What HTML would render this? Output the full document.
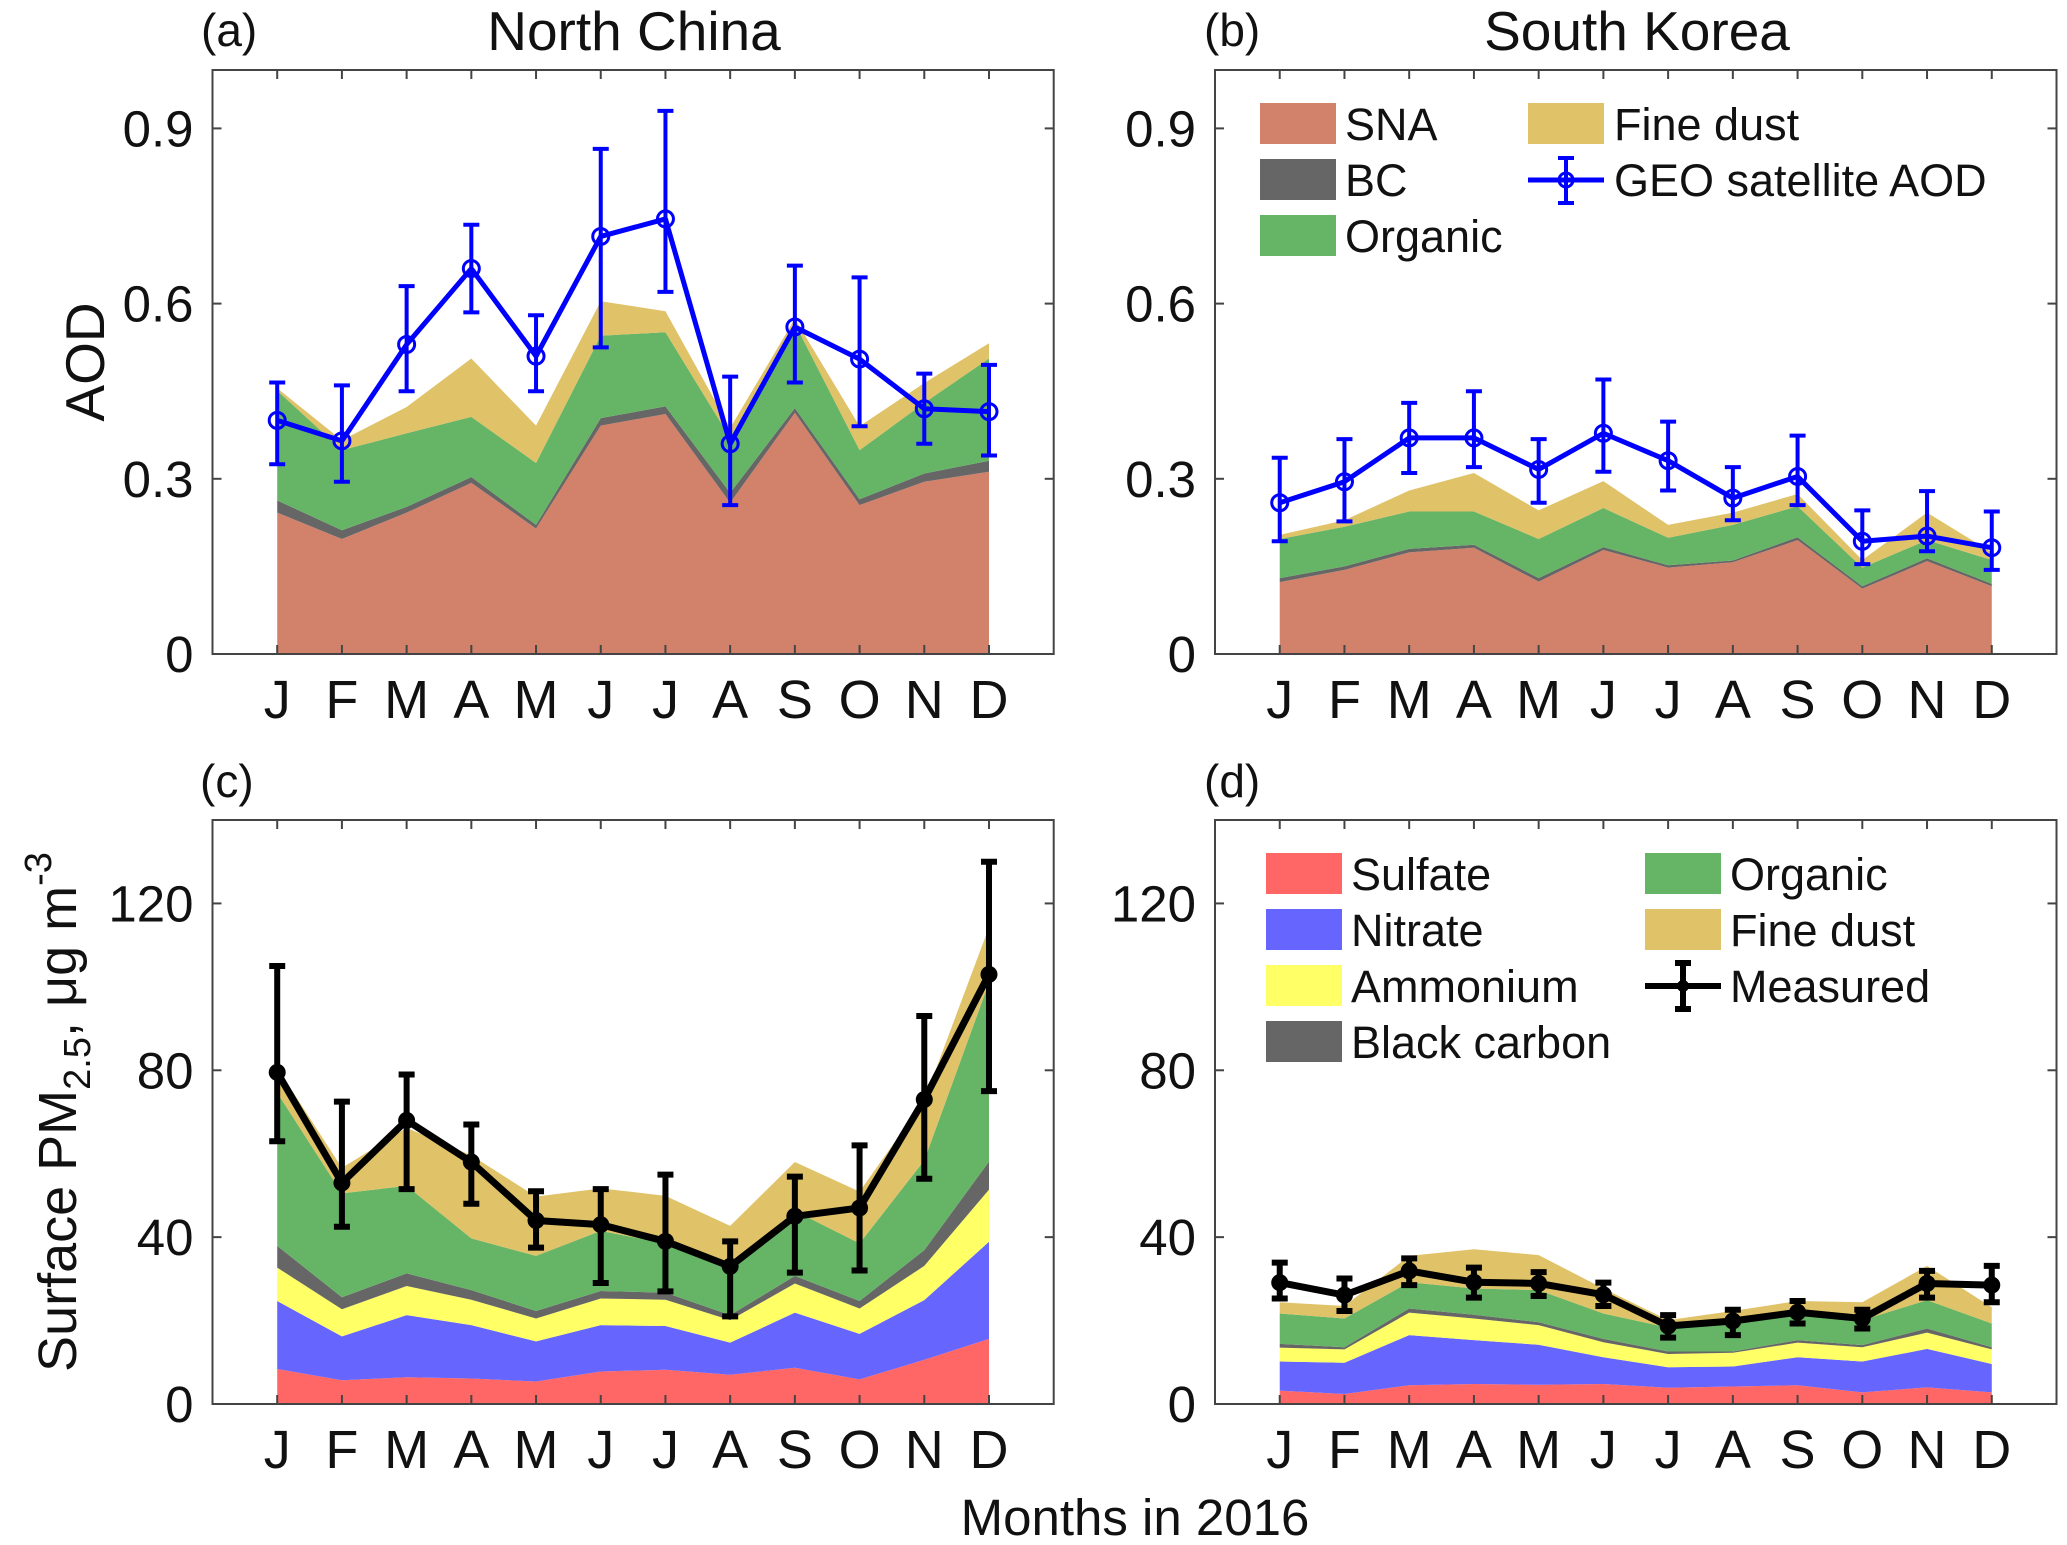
<!DOCTYPE html>
<html><head><meta charset="utf-8"><style>
html,body{margin:0;padding:0;background:#fff}
svg{display:block}
text{font-family:"Liberation Sans",Arial,sans-serif;fill:#111}
</style></head><body>
<svg id="fig" xmlns="http://www.w3.org/2000/svg" width="2067" height="1545" viewBox="0 0 2067 1545">
<rect x="0" y="0" width="2067" height="1545" fill="#fff"/>
</svg>
<script>
const months = ["J","F","M","A","M","J","J","A","S","O","N","D"];
// Panel (a) North China AOD cumulative stack tops
const aSna   = [0.242,0.197,0.242,0.293,0.215,0.391,0.411,0.259,0.413,0.255,0.295,0.312];
const aBc    = [0.263,0.212,0.252,0.303,0.221,0.404,0.424,0.276,0.421,0.265,0.309,0.331];
const aOrg   = [0.451,0.349,0.378,0.406,0.327,0.545,0.551,0.370,0.566,0.349,0.430,0.506];
const aDust  = [0.455,0.366,0.423,0.506,0.391,0.604,0.587,0.387,0.574,0.390,0.464,0.532];
const aAod   = [0.40,0.365,0.53,0.66,0.51,0.715,0.745,0.36,0.56,0.505,0.42,0.415];
const aLo    = [0.325,0.295,0.45,0.585,0.45,0.525,0.62,0.255,0.465,0.39,0.36,0.34];
const aHi    = [0.465,0.46,0.63,0.735,0.58,0.865,0.93,0.475,0.665,0.645,0.48,0.495];
// Panel (b) South Korea AOD
const bSna   = [0.123,0.144,0.174,0.182,0.124,0.178,0.148,0.157,0.195,0.112,0.159,0.116];
const bBc    = [0.130,0.150,0.180,0.187,0.130,0.183,0.152,0.160,0.200,0.116,0.164,0.120];
const bOrg   = [0.197,0.218,0.244,0.244,0.197,0.250,0.199,0.221,0.253,0.148,0.195,0.161];
const bDust  = [0.204,0.229,0.280,0.310,0.246,0.296,0.221,0.242,0.274,0.161,0.242,0.174];
const bAod   = [0.259,0.295,0.370,0.370,0.316,0.378,0.331,0.267,0.304,0.193,0.202,0.182];
const bLo    = [0.193,0.227,0.310,0.320,0.259,0.312,0.280,0.229,0.255,0.154,0.176,0.144];
const bHi    = [0.336,0.368,0.430,0.450,0.368,0.470,0.398,0.320,0.374,0.246,0.279,0.244];
// Panel (c) North China PM2.5 cumulative tops
const cSul   = [8.4,5.7,6.4,6.1,5.4,7.8,8.2,7.0,8.7,5.9,10.6,15.6];
const cNit   = [24.7,16.2,21.3,18.9,15.0,18.9,18.7,14.7,21.9,16.8,24.9,38.9];
const cAmm   = [32.7,22.7,28.3,25.0,20.5,25.3,25.0,20.1,28.9,22.9,33.1,51.4];
const cBc    = [37.9,25.6,31.3,27.3,22.3,27.1,26.7,21.3,30.7,24.7,36.9,58.1];
const cOrg   = [74.6,50.5,52.3,39.7,35.5,41.5,38.5,32.9,46.3,38.5,58.4,101];
const cDust  = [80.6,56.6,66.2,59.6,49.7,51.7,49.9,42.7,58.0,50.9,72.8,114.3];
const cMeas  = [79.5,53,68,58,44,43,39,33,45,47,73,103];
const cLo    = [63,42.5,51.5,48,37.5,29,27,21,31.5,32,54,75];
const cHi    = [105,72.5,79,67,51,51.5,55,39,54.5,62,93,130];
// Panel (d) South Korea PM2.5
const dSul   = [3.2,2.4,4.5,4.8,4.6,4.8,3.9,4.2,4.5,2.8,4.0,2.8];
const dNit   = [10.2,9.9,16.5,15.3,14.2,11.2,8.8,9.0,11.2,10.2,13.2,9.6];
const dAmm   = [13.5,13.1,21.9,20.5,18.9,14.8,12.0,12.3,14.7,13.6,17.1,13.1];
const dBc    = [14.4,13.6,22.9,21.4,19.6,15.6,12.6,12.6,15.3,14.1,18.1,13.6];
const dOrg   = [21.7,20.5,29.2,27.7,27.3,21.7,18.3,19.9,21.7,20.1,24.9,19.3];
const dDust  = [24.4,23.5,35.5,37.1,35.7,27.7,20.1,22.3,24.7,24.4,33.1,23.2];
const dMeas  = [29.1,26.1,31.9,29.2,28.9,26.2,18.7,19.9,22.0,20.5,28.9,28.5];
const dLo    = [25.3,22.3,28.5,25.5,25.9,23.5,15.9,16.5,19.3,18.1,25.5,24.4];
const dHi    = [33.9,30.1,34.9,32.7,31.6,29.1,21.3,22.6,24.7,22.6,31.9,33.1];
const aodTicks = ["0","0.3","0.6","0.9"];
const aodTickVals = [0,0.3,0.6,0.9];
const pmTicks = ["0","40","80","120"];
const pmTickVals = [0,40,80,120];

const NS="http://www.w3.org/2000/svg";
const svg=document.getElementById('fig');
function mk(tag,attrs,parent){const e=document.createElementNS(NS,tag);for(const k in attrs)e.setAttribute(k,attrs[k]);(parent||svg).appendChild(e);return e;}

function panel(cfg){
  const g=mk('g',{});
  
  
  const L=cfg.x0,R=cfg.x1,T=cfg.y0,B=cfg.y1;
  const sx=i=>L+(i+1)*(R-L)/13;
  const sy=v=>B-v/cfg.ymax*(B-T);
  let prev=null;
  cfg.layers.forEach(ly=>{
    let pts=[];
    ly.vals.forEach((v,i)=>pts.push(sx(i)+','+sy(v)));
    if(prev){for(let i=11;i>=0;i--)pts.push(sx(i)+','+sy(prev[i]));}
    else{pts.push(sx(11)+','+sy(0));pts.push(sx(0)+','+sy(0));}
    const p=mk('polygon',{points:pts.join(' '),fill:ly.color,stroke:'none'},g);
    
    
    prev=ly.vals;
  });
  const box=mk('rect',{x:L,y:T,width:R-L,height:B-T,fill:'none',stroke:'#444','stroke-width':2},g);
  
  
  months.forEach((m,i)=>{
    mk('line',{x1:sx(i),x2:sx(i),y1:B,y2:B-9,stroke:'#444','stroke-width':2},g);
    mk('line',{x1:sx(i),x2:sx(i),y1:T,y2:T+9,stroke:'#444','stroke-width':2},g);
    const t=mk('text',{x:sx(i),y:cfg.monthY,'text-anchor':'middle','font-size':54},g);
    t.textContent=m;
    
    
  });
  cfg.tickVals.forEach((v,i)=>{
    mk('line',{x1:L,x2:L+9,y1:sy(v),y2:sy(v),stroke:'#444','stroke-width':2},g);
    mk('line',{x1:R,x2:R-9,y1:sy(v),y2:sy(v),stroke:'#444','stroke-width':2},g);
    const t=mk('text',{x:L-19,y:sy(v)+18,'text-anchor':'end','font-size':51},g);
    t.textContent=cfg.ticks[i];
    
    
  });
  const lg=mk('g',{},g);
  
  
  const c=cfg.lineColor;
  cfg.line.forEach((v,i)=>{
    const x=sx(i);
    mk('line',{x1:x,x2:x,y1:sy(cfg.lo[i]),y2:sy(cfg.hi[i]),stroke:c,'stroke-width':cfg.lw},lg);
    mk('line',{x1:x-8,x2:x+8,y1:sy(cfg.lo[i]),y2:sy(cfg.lo[i]),stroke:c,'stroke-width':cfg.lw},lg);
    mk('line',{x1:x-8,x2:x+8,y1:sy(cfg.hi[i]),y2:sy(cfg.hi[i]),stroke:c,'stroke-width':cfg.lw},lg);
  });
  const pl=mk('polyline',{points:cfg.line.map((v,i)=>sx(i)+','+sy(v)).join(' '),fill:'none',stroke:c,'stroke-width':cfg.lw+1,'stroke-linejoin':'round'},lg);
  
  
  cfg.line.forEach((v,i)=>{
    const m=mk('circle',{cx:sx(i),cy:sy(v),r:cfg.open?8:7,fill:cfg.open?'none':c,stroke:c,'stroke-width':3},lg);
    
    
  });
}

const colSNA='#d2826a',colBC='#666666',colOrg='#66b566',colDust='#e0c268',colSul='#ff6666',colNit='#6666ff',colAmm='#ffff66';
panel({name:'panel-a-north-china-aod',x0:212.5,x1:1053.7,y0:70,y1:654,ymax:1,monthY:718,ticks:aodTicks,tickVals:aodTickVals,
  layers:[{name:'sna',vals:aSna,color:colSNA},{name:'bc',vals:aBc,color:colBC},{name:'organic',vals:aOrg,color:colOrg},{name:'fine-dust',vals:aDust,color:colDust}],
  line:aAod,lo:aLo,hi:aHi,lineColor:'#0000ff',lw:4,open:true,lineName:'geo-aod-series'});
panel({name:'panel-b-south-korea-aod',x0:1215,x1:2056.5,y0:70,y1:654,ymax:1,monthY:718,ticks:aodTicks,tickVals:aodTickVals,
  layers:[{name:'sna',vals:bSna,color:colSNA},{name:'bc',vals:bBc,color:colBC},{name:'organic',vals:bOrg,color:colOrg},{name:'fine-dust',vals:bDust,color:colDust}],
  line:bAod,lo:bLo,hi:bHi,lineColor:'#0000ff',lw:4,open:true,lineName:'geo-aod-series'});
panel({name:'panel-c-north-china-pm25',x0:212.5,x1:1053.7,y0:820,y1:1404,ymax:140,monthY:1468,ticks:pmTicks,tickVals:pmTickVals,
  layers:[{name:'sulfate',vals:cSul,color:colSul},{name:'nitrate',vals:cNit,color:colNit},{name:'ammonium',vals:cAmm,color:colAmm},{name:'black-carbon',vals:cBc,color:colBC},{name:'organic',vals:cOrg,color:colOrg},{name:'fine-dust',vals:cDust,color:colDust}],
  line:cMeas,lo:cLo,hi:cHi,lineColor:'#000',lw:6,open:false,lineName:'measured-series'});
panel({name:'panel-d-south-korea-pm25',x0:1215,x1:2056.5,y0:820,y1:1404,ymax:140,monthY:1468,ticks:pmTicks,tickVals:pmTickVals,
  layers:[{name:'sulfate',vals:dSul,color:colSul},{name:'nitrate',vals:dNit,color:colNit},{name:'ammonium',vals:dAmm,color:colAmm},{name:'black-carbon',vals:dBc,color:colBC},{name:'organic',vals:dOrg,color:colOrg},{name:'fine-dust',vals:dDust,color:colDust}],
  line:dMeas,lo:dLo,hi:dHi,lineColor:'#000',lw:6,open:false,lineName:'measured-series'});
</script>
<svg style="position:absolute;left:0;top:0" width="2067" height="1545" viewBox="0 0 2067 1545" xmlns="http://www.w3.org/2000/svg">
<g font-family="Liberation Sans, Arial, sans-serif" fill="#111">
<text x="201" y="46" font-size="46">(a)</text>
<text x="1204" y="46" font-size="46">(b)</text>
<text x="200" y="797" font-size="46">(c)</text>
<text x="1204" y="797" font-size="46">(d)</text>
<text x="634" y="50" font-size="55" text-anchor="middle">North China</text>
<text x="1637" y="50" font-size="55" text-anchor="middle">South Korea</text>
<text transform="translate(104,362) rotate(-90)" font-size="55" text-anchor="middle">AOD</text>
<text transform="translate(76,1112) rotate(-90)" font-size="54" text-anchor="middle">Surface PM<tspan font-size="38" dy="14">2.5</tspan><tspan dy="-14">, μg m</tspan><tspan font-size="38" dy="-25">-3</tspan></text>
<text x="1135" y="1535" font-size="51" text-anchor="middle">Months in 2016</text>
</g>
<g font-family="Liberation Sans, Arial, sans-serif" font-size="45" fill="#111">
<rect x="1260" y="103" width="76" height="41" fill="#d2826a"/><text x="1345" y="140">SNA</text>
<rect x="1260" y="159" width="76" height="41" fill="#666666"/><text x="1345" y="196">BC</text>
<rect x="1260" y="215" width="76" height="41" fill="#66b566"/><text x="1345" y="252">Organic</text>
<rect x="1528" y="103" width="76" height="41" fill="#e0c268"/><text x="1614" y="140">Fine dust</text>
<line x1="1528" x2="1604" y1="180" y2="180" stroke="#0000ff" stroke-width="5"/>
<line x1="1566" x2="1566" y1="158" y2="203" stroke="#0000ff" stroke-width="4"/>
<line x1="1558" x2="1574" y1="158" y2="158" stroke="#0000ff" stroke-width="4"/>
<line x1="1558" x2="1574" y1="203" y2="203" stroke="#0000ff" stroke-width="4"/>
<circle cx="1566" cy="180" r="7" fill="none" stroke="#0000ff" stroke-width="3"/>
<text x="1614" y="196">GEO satellite AOD</text>
</g>
<g font-family="Liberation Sans, Arial, sans-serif" font-size="45" fill="#111">
<rect x="1266" y="853" width="76" height="41" fill="#ff6666"/><text x="1351" y="890">Sulfate</text>
<rect x="1266" y="909" width="76" height="41" fill="#6666ff"/><text x="1351" y="946">Nitrate</text>
<rect x="1266" y="965" width="76" height="41" fill="#ffff66"/><text x="1351" y="1002">Ammonium</text>
<rect x="1266" y="1021" width="76" height="41" fill="#666666"/><text x="1351" y="1058">Black carbon</text>
<rect x="1645" y="853" width="76" height="41" fill="#66b566"/><text x="1730" y="890">Organic</text>
<rect x="1645" y="909" width="76" height="41" fill="#e0c268"/><text x="1730" y="946">Fine dust</text>
<line x1="1645" x2="1721" y1="986" y2="986" stroke="#000" stroke-width="6"/>
<line x1="1683" x2="1683" y1="963" y2="1009" stroke="#000" stroke-width="6"/>
<line x1="1675" x2="1691" y1="963" y2="963" stroke="#000" stroke-width="6"/>
<line x1="1675" x2="1691" y1="1009" y2="1009" stroke="#000" stroke-width="6"/>
<circle cx="1683" cy="986" r="6" fill="#000"/>
<text x="1730" y="1002">Measured</text>
</g>
</svg>
</body></html>
